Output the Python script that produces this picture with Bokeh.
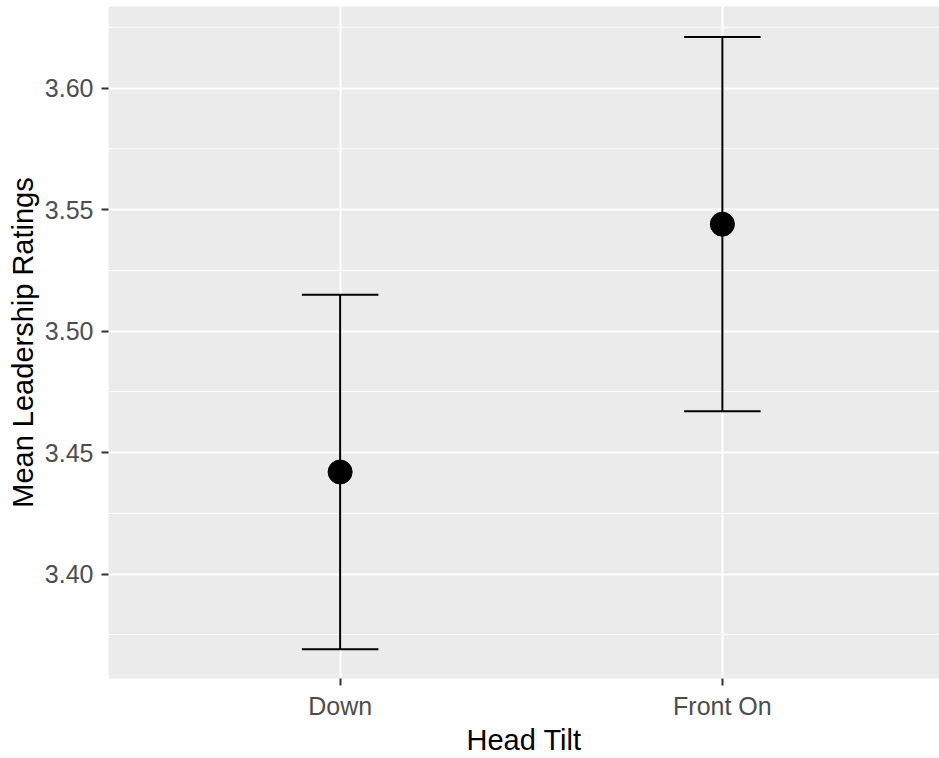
from bokeh.plotting import figure
from bokeh.models import Range1d, FixedTicker, ColumnDataSource
from bokeh.embed import file_html
from bokeh.resources import INLINE

# Mean leadership rating per head-tilt condition, with 95% confidence limits
categories = ["Down", "Front On"]
mean_rating = [3.442, 3.544]
ci_lower = [3.369, 3.467]
ci_upper = [3.515, 3.621]
y_ticks = [3.40, 3.45, 3.50, 3.55, 3.60]

# categories sit at integer positions on a numeric axis
xpos = list(range(1, len(categories) + 1))
cap_half = 0.1
src = ColumnDataSource(dict(
    x=xpos,
    mean=mean_rating,
    lo=ci_lower,
    hi=ci_upper,
    x0=[x - cap_half for x in xpos],
    x1=[x + cap_half for x in xpos],
))

FONT = "Liberation Sans"
PANEL = "#EBEBEB"

p = figure(
    width=939, height=758,
    output_backend="svg", toolbar_location=None,
    x_range=Range1d(0.394, 2.568),
    y_range=Range1d(3.357, 3.6336),
    min_border_left=108, min_border_right=0,
    min_border_top=6, min_border_bottom=80,
    background_fill_color=PANEL,
    border_fill_color="white",
    outline_line_color=None,
)

# grid: white major and minor lines on grey panel
minor = [t - 0.025 for t in y_ticks] + [y_ticks[-1] + 0.025]
p.yaxis.ticker = FixedTicker(ticks=y_ticks, minor_ticks=minor)
p.xaxis.ticker = FixedTicker(ticks=xpos, minor_ticks=[])
p.xaxis.major_label_overrides = {x: c for x, c in zip(xpos, categories)}
p.yaxis.major_label_overrides = {t: f"{t:.2f}" for t in y_ticks}

for g in (p.xgrid, p.ygrid):
    g.grid_line_color = "white"
    g.grid_line_width = 2
p.ygrid.minor_grid_line_color = "white"
p.ygrid.minor_grid_line_width = 1.2

for ax in (p.xaxis, p.yaxis):
    ax.axis_line_color = None
    ax.major_tick_line_color = "#333333"
    ax.major_tick_line_width = 2
    ax.major_tick_out = 7
    ax.major_tick_in = 0
    ax.minor_tick_line_color = None
    ax.major_label_text_font = FONT
    ax.major_label_text_font_size = "25px"
    ax.major_label_text_color = "#4D4D4D"
    ax.axis_label_text_font = FONT
    ax.axis_label_text_font_size = "29px"
    ax.axis_label_text_font_style = "normal"
    ax.axis_label_text_color = "black"

p.xaxis.axis_label = "Head Tilt"
p.yaxis.axis_label = "Mean Leadership Ratings"
p.xaxis.major_label_standoff = 6
p.yaxis.major_label_standoff = 8
p.xaxis.axis_label_standoff = 1
p.yaxis.axis_label_standoff = 3

# error bars: vertical stem plus horizontal caps
p.segment(x0="x", y0="lo", x1="x", y1="hi", source=src, line_color="black", line_width=2)
p.segment(x0="x0", y0="lo", x1="x1", y1="lo", source=src, line_color="black", line_width=2)
p.segment(x0="x0", y0="hi", x1="x1", y1="hi", source=src, line_color="black", line_width=2)

# group means
p.scatter(x="x", y="mean", source=src, size=24, fill_color="black", line_color="black")

open("out.html", "w").write(file_html(p, INLINE))
